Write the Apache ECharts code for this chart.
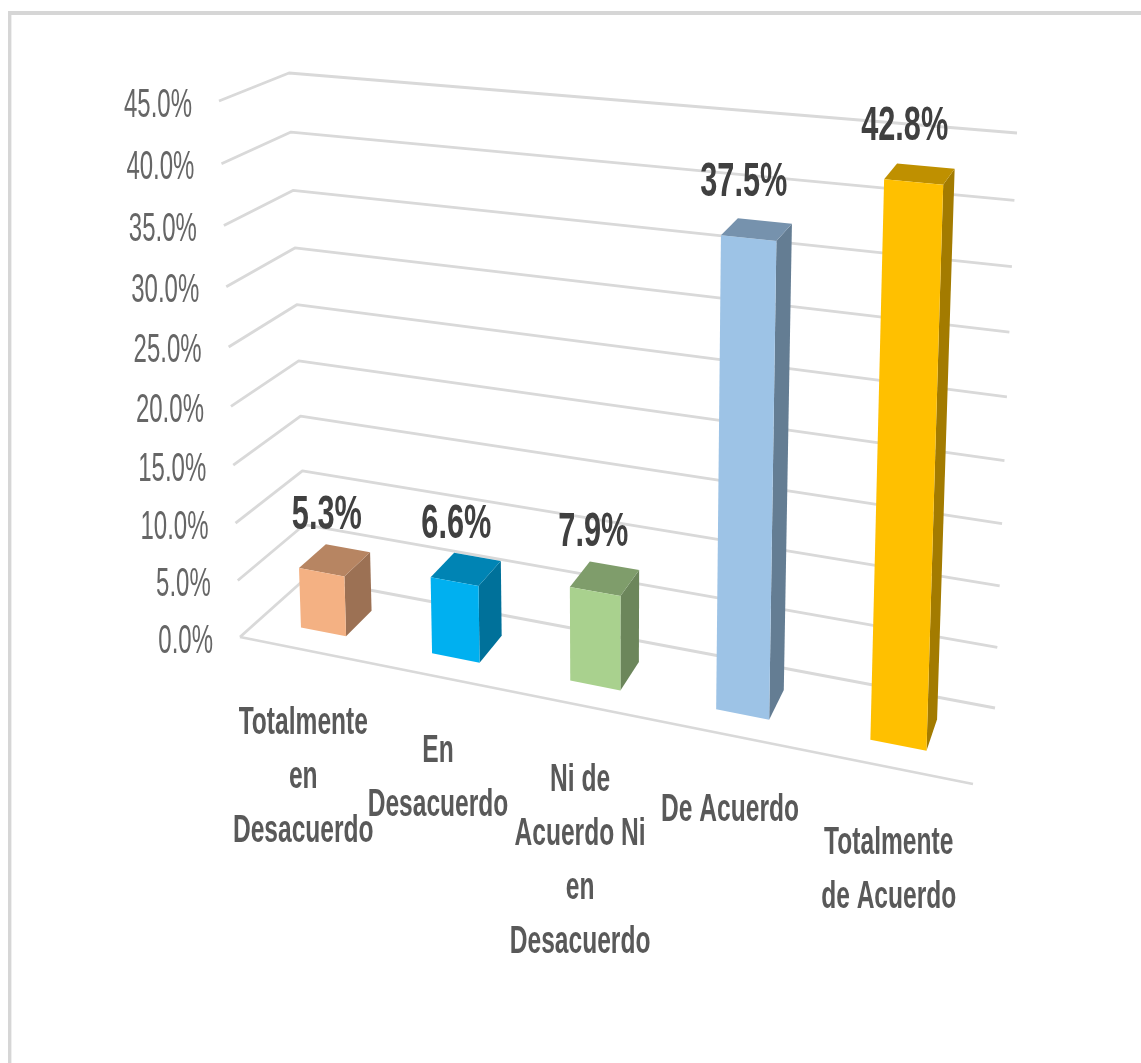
<!DOCTYPE html>
<html>
<head>
<meta charset="utf-8">
<style>html,body{margin:0;padding:0;background:#fff}#c{width:1141px;height:1063px;filter:blur(0.5px)}</style>
<script src="https://cdn.jsdelivr.net/npm/echarts@6/dist/echarts.min.js"></script>
</head>
<body>
<div id="c"></div>
<script>
const categories = ['Totalmente\nen\nDesacuerdo', 'En\nDesacuerdo', 'Ni de\nAcuerdo Ni\nen\nDesacuerdo', 'De Acuerdo', 'Totalmente\nde Acuerdo'];
const values = [5.3, 6.6, 7.9, 37.5, 42.8];
const frontColors = ['#F4B183', '#00B0F0', '#A9D18E', '#9DC3E6', '#FFC000'];
const yTicks = [0, 5, 10, 15, 20, 25, 30, 35, 40, 45];

// Corners of the 3-D box as seen on the page: [front/back][left/right][floor/top]
const box = {
  flb: [240, 637], flt: [219, 101], blb: [306, 578], blt: [289, 73],
  frb: [973, 784], frt: [993, 170], brb: [995, 708], brt: [1017, 133]
};
const X_PERSP = 1.146, H_PERSP = 1.06, D0 = 0.30, D1 = 0.72, BAR_W = 0.35;
const warp = (t, a) => t / (a - (a - 1) * t);
const mix = (p, q, t) => [p[0] + (q[0] - p[0]) * t, p[1] + (q[1] - p[1]) * t];
// u: along category axis, d: depth, h: value height (all 0..1 from the axis scale)
function project(u, d, h) {
  const U = warp(u, X_PERSP), H = warp(h, H_PERSP);
  const fb = mix(box.flb, box.frb, U), ft = mix(box.flt, box.frt, U);
  const bb = mix(box.blb, box.brb, U), bt = mix(box.blt, box.brt, U);
  return mix(mix(fb, ft, H), mix(bb, bt, H), d);
}
function norm(params, px, py) {
  const g = params.coordSys;
  return [(px - g.x) / g.width, (g.y + g.height - py) / g.height];
}
const shade = (hex, k) => {
  const n = parseInt(hex.slice(1), 16);
  const f = s => Math.round(((n >> s) & 255) * k);
  return `rgb(${f(16)},${f(8)},${f(0)})`;
};
const FONT = '"Liberation Sans", Arial, sans-serif';
const text = (x, y, str, fs, weight, color, sx, lh, align, vAlign) => ({
  type: 'text', x, y, scaleX: sx, silent: true,
  style: { x: 0, y: 0, text: str, fill: color, align, verticalAlign: vAlign,
           font: `${weight} ${fs}px ${FONT}`, lineHeight: lh }
});

function renderGrid(params, api) {
  const v = api.value(0);
  const [, h] = norm(params, 0, api.coord([0, v])[1]);
  const a = project(0, 0, h), b = project(0, 1, h), c = project(1, 1, h);
  const style = { stroke: '#d9d9d9', lineWidth: 2.8, fill: null, lineJoin: 'round' };
  const children = [{ type: 'polyline', shape: { points: [a, b, c] }, style }];
  if (v === 0) {
    const e = project(1, 0, 0);
    children.push({ type: 'line', shape: { x1: a[0], y1: a[1], x2: e[0], y2: e[1] }, style });
  }
  children.push(text(a[0] - 27, a[1] + 4.5, v.toFixed(1) + '%', 40, 'normal', '#666666', 0.6, 40, 'right', 'middle'));
  return { type: 'group', children };
}

function renderBar(params, api) {
  const i = api.value(0), v = api.value(1);
  const p = api.coord([i, v]);
  const band = api.size([1, 0])[0];
  const [uc, h] = norm(params, p[0], p[1]);
  const uw = BAR_W * band / params.coordSys.width / 2;
  const u0 = uc - uw, u1 = uc + uw;
  const col = frontColors[i];
  const poly = (pts, fill) => ({ type: 'polygon', shape: { points: pts }, style: { fill } });
  const top = project(uc, D1, h);
  const edge = project(uc, 0, 0);
  return { type: 'group', children: [
    poly([project(u1, D0, 0), project(u1, D1, 0), project(u1, D1, h), project(u1, D0, h)], shade(col, 0.64)),
    poly([project(u0, D0, h), project(u1, D0, h), project(u1, D1, h), project(u0, D1, h)], shade(col, 0.75)),
    poly([project(u0, D0, 0), project(u1, D0, 0), project(u1, D0, h), project(u0, D0, h)], col),
    text(top[0] - 21, top[1] - 31 - 8.5 * h, v.toFixed(1) + '%', 48, 'bold', '#404040', 0.64, 48, 'center', 'middle'),
    text(edge[0] - 1.5, edge[1] + 46 + 3 * uc, categories[i], 39, 'bold', '#595959', 0.63, 54, 'center', 'top')
  ]};
}

const chart = echarts.init(document.getElementById('c'), null, { renderer: 'canvas' });
chart.setOption({
  animation: false,
  backgroundColor: '#ffffff',
  grid: { left: 200, right: 200, top: 200, bottom: 300 },
  xAxis: { type: 'category', data: categories, show: false },
  yAxis: { type: 'value', min: 0, max: 45, interval: 5, show: false },
  graphic: [
    { type: 'line', shape: { x1: 8, y1: 13, x2: 1141, y2: 13 }, style: { stroke: '#d6d6d6', lineWidth: 4 } },
    { type: 'line', shape: { x1: 9.7, y1: 11, x2: 9.7, y2: 1063 }, style: { stroke: '#d6d6d6', lineWidth: 3.4 } }
  ],
  series: [
    { type: 'custom', coordinateSystem: 'cartesian2d', clip: false, renderItem: renderGrid,
      encode: { y: 0 }, data: yTicks.map(v => [v]), z: 1 },
    { type: 'custom', coordinateSystem: 'cartesian2d', clip: false, renderItem: renderBar,
      encode: { x: 0, y: 1 }, data: values.map((v, i) => [i, v]), z: 2 }
  ]
});
</script>
</body>
</html>
